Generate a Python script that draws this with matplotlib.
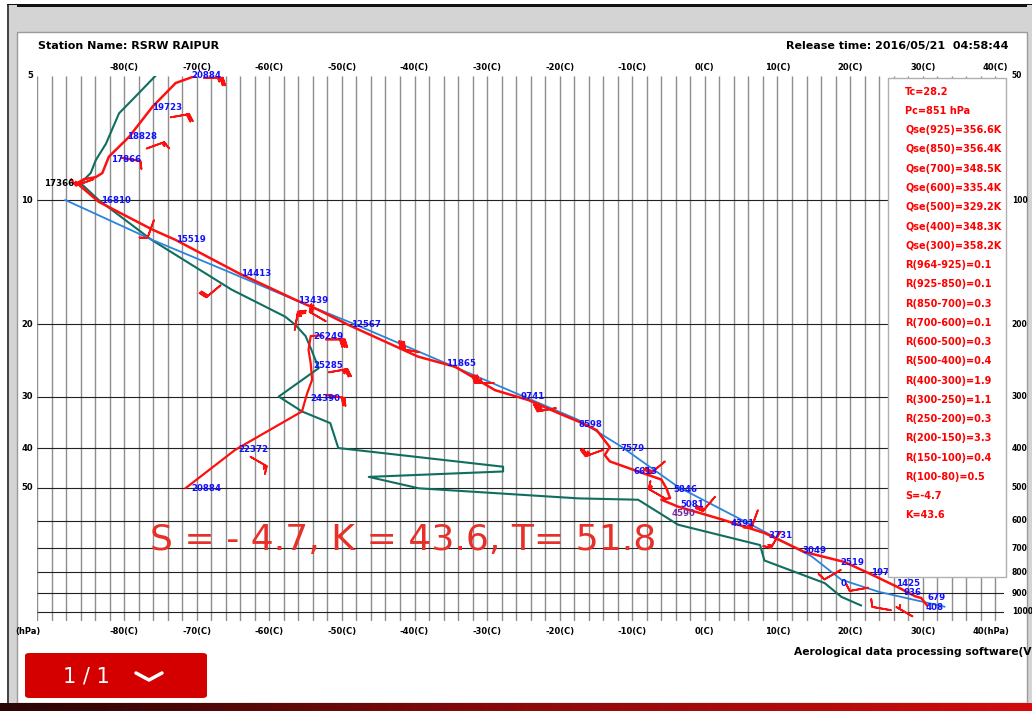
import numpy as np
import matplotlib.pyplot as plt
from matplotlib.patches import Rectangle, FancyBboxPatch
from matplotlib.lines import Line2D
from matplotlib.colors import LinearSegmentedColormap
from matplotlib import transforms

W, H = 1032, 711

# temperature sounding (hPa, degC)
temp_p = [50, 52, 59.4, 70.2, 78.5, 86, 88, 89, 91, 101, 118, 125, 150.6, 175, 185, 201,
          240, 254, 289.5, 306, 329, 345, 362, 398, 416, 431, 456, 477, 501, 529, 534,
          555, 596, 643, 715, 756, 804, 871, 915, 925, 964]
temp_t = [-70.2, -72.9, -76.1, -79.3, -82.1, -83.0, -83.9, -85.5, -86.5, -83.5, -76.1, -72.9,
          -64.2, -56.3, -53.2, -49.1, -39.5, -34.4, -28.9, -24.3, -20.2, -17.4, -14.9, -13.1,
          -13.8, -13.1, -9.2, -6.0, -5.3, -4.8, -6.0, -3.7, 2.3, 8.2, 13.7, 19.2, 22.5, 26.6,
          28.9, 29.8, 30.6]

# dew point
dew_p = [964, 919, 851, 750, 688, 614, 566, 534, 530, 501, 470, 456, 444, 400, 348, 326,
         300, 256, 231, 214, 201, 192, 165, 125, 100, 91, 86, 80, 73, 61.6, 56, 50]
dew_t = [21.5, 18.8, 16.5, 8.2, 7.6, -3.7, -6.9, -9.2, -17.4, -39.4, -46.3, -27.8, -27.8,
         -50.5, -51.6, -55.5, -58.7, -53.2, -54.2, -55.0, -56.4, -57.8, -65.2, -76.2, -83.5,
         -86.0, -84.6, -83.9, -82.5, -80.7, -78.4, -75.7]

# state curve
curve_p = [100, 125, 150.4, 175, 199, 342, 397, 497, 621, 733, 835, 893, 935, 971]
curve_t = [-88.1, -76.1, -65.2, -56.4, -48.6, -17.4, -11.5, -3.7, 6.9, 14.7, 18.8, 23.9, 28.9, 33.0]

# upper part of the sounding (hPa), drawn on the left scale (x10)
upper_p = [50.0, 40.4, 32.6, 30.8, 29.5, 27.3, 24.9, 23.1, 21.4, 21.3]
upper_t = [-71.5, -64.7, -55.5, -55.1, -54.8, -54.1, -54.3, -54.6, -54.3, -52.8]

# height labels (m)
hgt_text = ["20884", "19723", "18828", "17866", "16810", "15519", "14413", "13439", "12567",
            "11865", "9741", "8598", "7579", "6613", "5846", "5081", "4391", "3731", "3049",
            "2519", "1979", "1425", "936", "679", "408", "0"]
hgt_p = [50, 59.5, 70, 79.6, 100, 125, 150.6, 175, 201, 250, 300, 350, 402, 455, 503, 547,
         609, 654, 708, 758, 804, 851, 899, 921, 973, 851]
hgt_t = [-70.7, -76.2, -79.6, -81.8, -83.2, -72.9, -63.9, -56.0, -48.7, -35.7, -25.4, -17.4,
         -11.7, -9.9, -4.4, -3.4, 3.5, 8.7, 13.5, 18.6, 22.9, 26.3, 27.3, 30.6, 30.4, 18.7]
upper_hgt_text = ["26249", "25285", "24390", "22372", "20884"]
upper_hgt_p = [21.4, 25.2, 30.4, 40.4, 50.2]
upper_hgt_t = [-53.9, -53.9, -54.3, -64.2, -70.7]

# wind barbs
barb_p = [50.5, 63, 75, 79, 89, 112, 161, 207, 197, 234, 278, 320, 404, 431, 530, 525, 566,
          638, 791, 873, 990, 1025]
barb_t = [-69.0, -73.6, -76.9, -80.3, -84.2, -75.9, -66.7, -56.5, -52.2, -39.4, -29.1, -20.5,
          -14.0, -5.5, -5.5, 1.4, 7.3, 10.4, 18.7, 22.5, 25.6, 28.6]
barb_dir = [90, 80, 70, 100, 250, 200, 230, 10, 300, 280, 270, 260, 250, 230, 300, 220, 200,
            210, 240, 260, 280, 300]
barb_spd = [25, 20, 15, 10, 15, 10, 20, 25, 20, 30, 35, 30, 25, 20, 15, 20, 15, 15, 10, 10, 10, 5]
upper_barb_p = [21.8, 26.2, 29.7, 42]
upper_barb_t = [-52.2, -51.8, -52.2, -62.6]
upper_barb_dir = [90, 80, 100, 120]
upper_barb_spd = [30, 25, 20, 15]

info_lines = ["Tc=28.2", "Pc=851 hPa", "Qse(925)=356.6K", "Qse(850)=356.4K", "Qse(700)=348.5K",
              "Qse(600)=335.4K", "Qse(500)=329.2K", "Qse(400)=348.3K", "Qse(300)=358.2K",
              "R(964-925)=0.1", "R(925-850)=0.1", "R(850-700)=0.3", "R(700-600)=0.1",
              "R(600-500)=0.3", "R(500-400)=0.4", "R(400-300)=1.9", "R(300-250)=1.1",
              "R(250-200)=0.3", "R(200-150)=3.3", "R(150-100)=0.4", "R(100-80)=0.5",
              "S=-4.7", "K=43.6"]

temp_ticks = [-80, -70, -60, -50, -40, -30, -20, -10, 0, 10, 20, 30, 40]
left_ticks = [5, 10, 20, 30, 40, 50]
right_ticks = [50, 100, 200, 300, 400, 500, 600, 700, 800, 900, 1000]


def fr(x0, y0, x1, y1):
    return (x0 / W, 1 - y1 / H), (x1 - x0) / W, (y1 - y0) / H


def uv(d, s):
    d = np.radians(np.array(d, float))
    s = np.array(s, float)
    return -s * np.sin(d), -s * np.cos(d)


fig = plt.figure(figsize=(W / 100, H / 100), dpi=100)
fig.patch.set_facecolor('white')

# window frame (behind the chart)
for box, fc in [((7, 5, W, 32), '#d4d4d4'), ((7, 4, W, 7), '#111111'),
                ((7, 5, 17, 703), '#d4d4d4'), ((7, 5, 9, 703), '#444444'),
                ((1027, 5, W, 703), '#d4d4d4')]:
    fig.add_artist(Rectangle(*fr(*box), facecolor=fc, edgecolor='none', zorder=-10))
fig.add_artist(Rectangle(*fr(17, 32, 1027, 703), facecolor='white', edgecolor='#9a9a9a',
                         lw=1, zorder=-9))
bar = fig.add_axes([0, 0, 1, 8 / H])
bar.imshow(np.linspace(0, 1, 256)[None, :], aspect='auto',
           cmap=LinearSegmentedColormap.from_list('b', ['#2a0505', '#8a0a0a', '#d40a0a']))
bar.axis('off')

ax = fig.add_axes([37 / W, 1 - 620.7 / H, 967 / W, 544.7 / H])
ax.set_yscale('log')
ax.set_xlim(-92, 41.2)
ax.set_ylim(1050, 50)
ax.axis('off')

ax.vlines(np.arange(-92, 41, 2), 1050, 50, color='#8e8e8e', lw=1.0, zorder=1)
ax.hlines(right_ticks[1:], -92, 41.2, color='#222222', lw=0.8, zorder=1)

ax.plot(dew_t, dew_p, color='#106e60', lw=1.5, zorder=2)
ax.plot(curve_t, curve_p, color='#2a84dc', lw=1.3, zorder=2)
ax.plot(temp_t, temp_p, color='#ff1010', lw=1.8, zorder=3)
ax.plot(upper_t, np.array(upper_p) * 10, color='#ff1010', lw=1.6, zorder=3)

bu, bv = uv(barb_dir, barb_spd)
ax.barbs(barb_t, barb_p, bu, bv, color='#ff1010', length=5.2, linewidth=1.3, zorder=4)
bu, bv = uv(upper_barb_dir, upper_barb_spd)
ax.barbs(upper_barb_t, np.array(upper_barb_p) * 10, bu, bv, color='#ff1010', length=5.2,
         linewidth=1.3, zorder=4)

for t, p, s in zip(hgt_t, hgt_p, hgt_text):
    ax.text(t, p, s, color='#1010ff', fontsize=6.2, fontweight='bold', va='center',
            ha='left', zorder=5, clip_on=False)
for t, p, s in zip(upper_hgt_t, upper_hgt_p, upper_hgt_text):
    ax.text(t, p * 10, s, color='#1010ff', fontsize=6.2, fontweight='bold', va='center',
            ha='left', zorder=5)
ax.text(-91.0, 91, "17366", color='black', fontsize=6.2, fontweight='bold', va='center', zorder=5)
ax.text(-4.6, 578, "4590", color='#7030a0', fontsize=6.2, fontweight='bold', va='center', zorder=5)

tr = transforms.blended_transform_factory(ax.transData, ax.transAxes)
for t in temp_ticks:
    ax.text(t, 1.0165, f"{t}(C)", transform=tr, ha='center', va='center', fontsize=6,
            fontweight='bold', clip_on=False)
for t in temp_ticks[:-1]:
    ax.text(t, -0.0207, f"{t}(C)", transform=tr, ha='center', va='center', fontsize=6,
            fontweight='bold', clip_on=False)
ax.text(-93.3, -0.0207, "(hPa)", transform=tr, ha='center', va='center', fontsize=6,
        fontweight='bold', clip_on=False)
ax.text(39.4, -0.0207, "40(hPa)", transform=tr, ha='center', va='center', fontsize=6,
        fontweight='bold', clip_on=False)

tr2 = transforms.blended_transform_factory(ax.transAxes, ax.transData)
for v in left_ticks:
    ax.text(-0.004, v * 10, str(v), transform=tr2, ha='right', va='center', fontsize=6,
            fontweight='bold', clip_on=False)
for v in right_ticks:
    ax.text(1.008, v, str(v), transform=tr2, ha='left', va='center', fontsize=5.5,
            fontweight='bold', clip_on=False)

# info box
fig.add_artist(Rectangle(*fr(888, 78, 1006, 577), facecolor='white', edgecolor='#b0b0b0',
                         lw=1, zorder=5))
for i, s in enumerate(info_lines):
    fig.text(905 / W, 1 - (91.7 + i * 19.26) / H, s, color='#ff0000', fontsize=7,
             fontweight='bold', va='center', zorder=6)

fig.text(150 / W, 1 - 540 / H, "S = - 4.7, K = 43.6, T= 51.8", color='#e8302a',
         fontsize=26, va='center', zorder=6)

fig.text(38 / W, 1 - 46 / H, "Station Name: RSRW RAIPUR", fontsize=8, fontweight='bold',
         va='center')
fig.text(1008 / W, 1 - 46 / H, "Release time: 2016/05/21  04:58:44", fontsize=8,
         fontweight='bold', va='center', ha='right')
fig.text(794 / W, 1 - 652 / H, "Aerological data processing software(V", fontsize=7.7,
         fontweight='bold', va='center', ha='left')

# page button
fig.add_artist(FancyBboxPatch((25 / W, 1 - 698 / H), 182 / W, 45 / H,
                              boxstyle="round,pad=0,rounding_size=0.004",
                              facecolor='#d40000', edgecolor='none'))
fig.text(86 / W, 1 - 676 / H, "1 / 1", color='white', fontsize=15, ha='center', va='center')
fig.add_artist(Line2D([136 / W, 149 / W, 162 / W], [1 - 673 / H, 1 - 680 / H, 1 - 673 / H],
                      color='white', lw=2.5, solid_capstyle='round'))

fig.savefig("out.png", dpi=100)
